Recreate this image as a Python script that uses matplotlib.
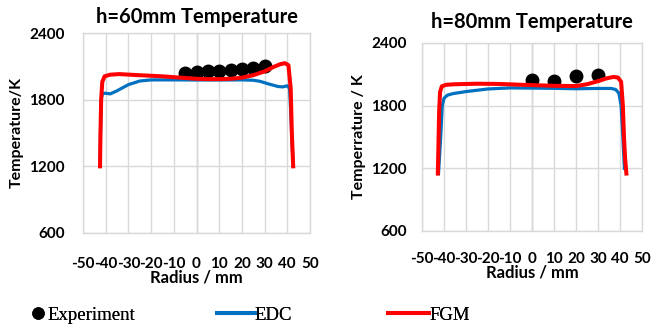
import matplotlib
matplotlib.use("Agg")
import matplotlib.pyplot as plt
from matplotlib.lines import Line2D

plt.rcParams["axes.unicode_minus"] = False

# ---- data ----
# h = 60 mm
exp60_r = [-5, 0, 5, 10, 15, 20, 25, 30]
exp60_t = [2040, 2050, 2055, 2062, 2068, 2080, 2088, 2100]

edc60_r = [-42.5, -42.3, -42.0, -41.5, -40, -38, -35, -30, -25, -20, -10, 0,
           10, 20, 25, 28, 32, 36, 38, 40, 41, 41.5, 42, 42.6]
edc60_t = [1200, 1500, 1800, 1855, 1858, 1852, 1880, 1935, 1968, 1978, 1978, 1977,
           1977, 1978, 1975, 1965, 1940, 1918, 1915, 1925, 1900, 1700, 1450, 1200]

fgm60_r = [-42.5, -42.3, -42.0, -41.5, -40.5, -38, -34, -25, -15, -5, 0, 5, 10,
           15, 20, 25, 30, 34, 37, 39, 40.5, 41.5, 42.0, 42.6]
fgm60_t = [1200, 1500, 1800, 1960, 2010, 2025, 2030, 2020, 2010, 1995, 1988, 1985, 1985,
           1988, 1998, 2020, 2055, 2095, 2120, 2128, 2110, 1900, 1500, 1200]

# h = 80 mm
exp80_r = [0, 10, 20, 30]
exp80_t = [2046, 2040, 2080, 2092]

edc80_r = [-42.5, -41.5, -40.8, -40, -38.5, -36, -30, -20, -10, 0, 10, 20, 30,
           36, 38, 39.5, 40.5, 41.3, 42]
edc80_t = [1150, 1500, 1800, 1870, 1900, 1915, 1935, 1960, 1970, 1968, 1966, 1962, 1965,
           1965, 1955, 1920, 1800, 1500, 1200]

fgm80_r = [-42.8, -42.5, -42.2, -41.8, -41, -39, -35, -25, -15, -5, 0, 10, 20, 25,
           30, 34, 37, 39, 40.5, 41.3, 41.8, 42.3, 42.9]
fgm80_t = [1150, 1450, 1750, 1930, 1985, 2000, 2005, 2010, 2008, 2000, 1997, 1990, 1988, 2005,
           2035, 2062, 2075, 2070, 2030, 1800, 1500, 1300, 1150]

x_ticks = [-50, -40, -30, -20, -10, 0, 10, 20, 30, 40, 50]
y_ticks = [600, 1200, 1800, 2400]

BLUE = "#0070c0"
RED = "#ff0000"
GRID = "#d9d9d9"
FONT = "Lato"

fig = plt.figure(figsize=(6.68, 3.31), dpi=100)
ax1 = fig.add_axes([83 / 668, 1 - 233 / 331, 227 / 668, 200 / 331])
ax2 = fig.add_axes([422 / 668, 1 - 231 / 331, 220 / 668, 188 / 331])


def style(ax, title, ylabel, tpad, ypad, xpad):
    ax.set_xlim(-50, 50)
    ax.set_ylim(600, 2400)
    ax.set_xticks(x_ticks)
    ax.set_yticks(y_ticks)
    ax.grid(True, color=GRID, lw=1.0)
    ax.set_axisbelow(True)
    ax.axvline(0, color="#bfbfbf", lw=1.0, zorder=0.5)
    for s in ax.spines.values():
        s.set_color(GRID)
        s.set_linewidth(1.0)
    ax.tick_params(length=0, labelsize=11)
    ax.tick_params(axis="x", pad=xpad)
    ax.tick_params(axis="y", pad=ypad)
    for lab in ax.get_xticklabels() + ax.get_yticklabels():
        lab.set_fontweight("bold")
        lab.set_family(FONT)
    ax.set_title(title, fontsize=14.5, fontweight="bold", family=FONT, pad=tpad)
    ax.set_ylabel(ylabel, fontsize=11.5, fontweight="bold", family=FONT, labelpad=4)
    ax.set_xlabel("Radius / mm", fontsize=12, fontweight="bold", family=FONT, labelpad=-1)


for ax, er, et, br, bt, rr, rt in [
    (ax1, exp60_r, exp60_t, edc60_r, edc60_t, fgm60_r, fgm60_t),
    (ax2, exp80_r, exp80_t, edc80_r, edc80_t, fgm80_r, fgm80_t),
]:
    ax.plot(er, et, "o", color="black", ms=9, zorder=3)
    ax.plot(br, bt, color=BLUE, lw=2.3, zorder=4, solid_joinstyle="round")
    ax.plot(rr, rt, color=RED, lw=2.9, zorder=5, solid_joinstyle="round")

style(ax1, "h=60mm Temperature", "Temperature/K", 7, 13, 17)
style(ax2, "h=80mm Temperature", "Temperrature / K", 11, 11, 15)

# ---- legend row ----
leg_font = {"family": "Liberation Serif", "size": 13.5}
items = [
    (Line2D([], [], ls="none", marker="o", color="black", ms=8), "Experiment", 0.55, 0.2, 33),
    (Line2D([], [], color=BLUE, lw=2.9), "EDC", 2.0, 0.0, 217),
    (Line2D([], [], color=RED, lw=2.9), "FGM", 2.2, 0.0, 388),
]
for h, lab, hl, tp, xpix in items:
    lg = fig.legend([h], [lab], loc="center left", bbox_to_anchor=(xpix / 668, 1 - 315 / 331),
                    frameon=False, prop=leg_font, handlelength=hl, handletextpad=tp,
                    borderpad=0, borderaxespad=0)
    fig.add_artist(lg)

fig.savefig("out.png", dpi=100)
